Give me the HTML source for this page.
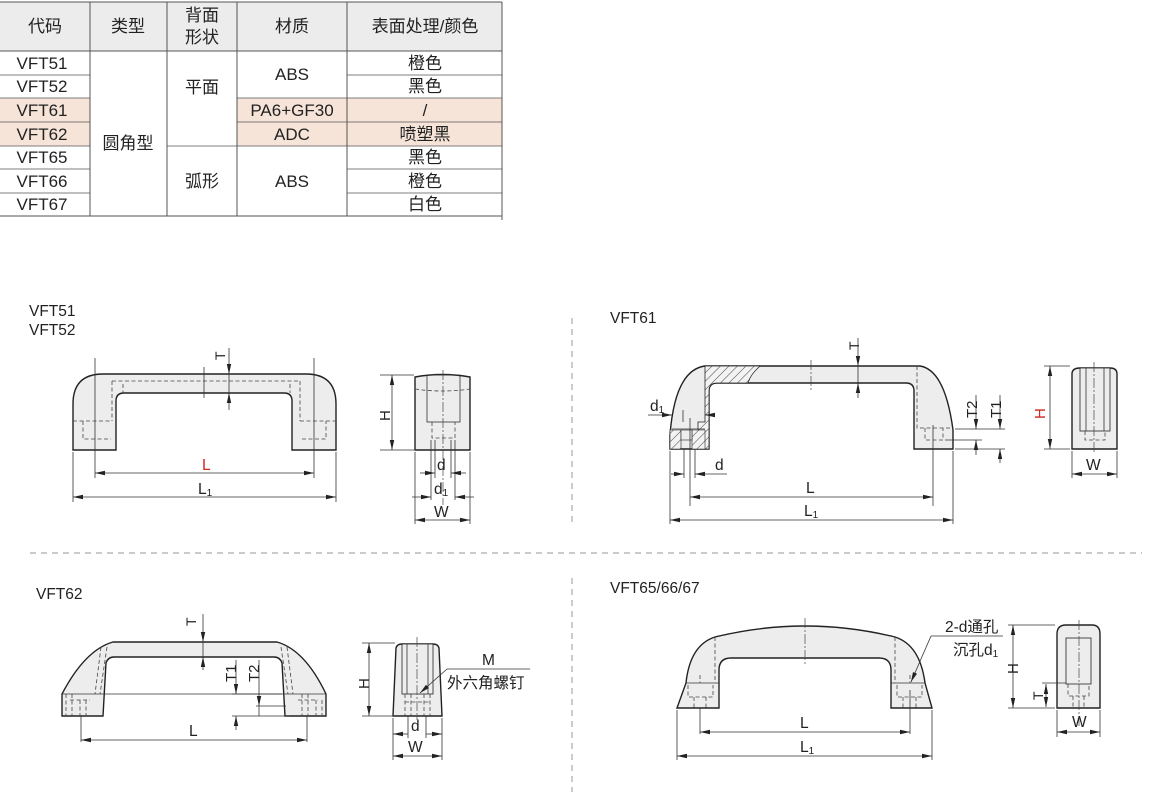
<!DOCTYPE html>
<html><head><meta charset="utf-8">
<style>
html,body{margin:0;padding:0;background:#fff;}
svg{display:block;}
text{font-family:"Liberation Sans","Noto Sans CJK SC",sans-serif;fill:#222;}
.tb{font-size:17px;}
.lb{font-size:15.5px;}
.o{fill:#ededed;stroke:#222;stroke-width:1.4;}
.ln{stroke:#333;stroke-width:0.8;fill:none;}
.dl{stroke:#444;stroke-width:0.8;fill:none;stroke-dasharray:4 2.5;}
.cl{stroke:#444;stroke-width:0.7;fill:none;stroke-dasharray:10 2 2 2;}
.sep{stroke:#aaa;stroke-width:1.2;stroke-dasharray:6 5;fill:none;}
</style></head>
<body>
<svg width="1164" height="797" viewBox="0 0 1164 797" xmlns="http://www.w3.org/2000/svg">
<defs>
<marker id="a" viewBox="0 0 10 6" refX="10" refY="3" markerWidth="10" markerHeight="6" orient="auto-start-reverse" markerUnits="userSpaceOnUse"><path d="M0,0.8 L10,3 L0,5.2 z" fill="#222"/></marker>
<pattern id="h" width="6" height="6" patternUnits="userSpaceOnUse" patternTransform="rotate(45)"><rect width="6" height="6" fill="#f3f3f3"/><line x1="0" y1="0" x2="0" y2="6" stroke="#333" stroke-width="0.9"/></pattern>
</defs>

<!-- TABLE -->
<rect x="0" y="2" width="502" height="49" fill="#ececec"/>
<rect x="0" y="98" width="90" height="48" fill="#f6e4d8"/>
<rect x="237" y="98" width="265" height="48" fill="#f6e4d8"/>
<g stroke="#555" stroke-width="1">
<line x1="0" y1="2" x2="502" y2="2"/>
<line x1="0" y1="51" x2="502" y2="51"/>
<line x1="0" y1="216" x2="502" y2="216"/>
<line x1="90" y1="2" x2="90" y2="216"/>
<line x1="167" y1="2" x2="167" y2="216"/>
<line x1="237" y1="2" x2="237" y2="216"/>
<line x1="347" y1="2" x2="347" y2="216"/>
<line x1="502" y1="2" x2="502" y2="220"/>
<g stroke-width="0.7">
<line x1="0" y1="75" x2="90" y2="75"/><line x1="0" y1="98" x2="90" y2="98"/><line x1="0" y1="122" x2="90" y2="122"/><line x1="0" y1="146" x2="90" y2="146"/><line x1="0" y1="169" x2="90" y2="169"/><line x1="0" y1="193" x2="90" y2="193"/>
<line x1="167" y1="146" x2="237" y2="146"/>
<line x1="237" y1="98" x2="502" y2="98"/><line x1="237" y1="122" x2="502" y2="122"/><line x1="237" y1="146" x2="502" y2="146"/>
<line x1="347" y1="75" x2="502" y2="75"/><line x1="347" y1="169" x2="502" y2="169"/><line x1="347" y1="193" x2="502" y2="193"/>
</g></g>
<g class="tb" text-anchor="middle">
<text x="45" y="32">代码</text><text x="128" y="32">类型</text>
<text x="202" y="21">背面</text><text x="202" y="43">形状</text>
<text x="292" y="32">材质</text><text x="425" y="32">表面处理/颜色</text>
<text x="42" y="69">VFT51</text><text x="42" y="92">VFT52</text><text x="42" y="116">VFT61</text><text x="42" y="140">VFT62</text><text x="42" y="163">VFT65</text><text x="42" y="187">VFT66</text><text x="42" y="210">VFT67</text>
<text x="128" y="149">圆角型</text>
<text x="202" y="93">平面</text><text x="202" y="187">弧形</text>
<text x="292" y="80">ABS</text><text x="292" y="116">PA6+GF30</text><text x="292" y="140">ADC</text><text x="292" y="187">ABS</text>
<text x="425" y="69">橙色</text><text x="425" y="92">黑色</text><text x="425" y="116">/</text><text x="425" y="140">喷塑黑</text><text x="425" y="163">黑色</text><text x="425" y="187">橙色</text><text x="425" y="210">白色</text>
</g>

<!-- separators -->
<line class="sep" x1="30" y1="553" x2="1142" y2="553"/>
<line class="sep" x1="572" y1="318" x2="572" y2="527"/>
<line class="sep" x1="572" y1="578" x2="572" y2="792"/>

<!-- ============ VFT51 ============ -->
<text class="lb" x="29" y="316">VFT51</text><text class="lb" x="29" y="335">VFT52</text>
<path class="o" d="M73,450 L73,404 Q73,374 103,374 L306,374 Q336,374 336,404 L336,450 L292,450 L292,401 Q292,393 284,393 L124,393 Q116,393 116,401 L116,450 Z"/>
<path class="dl" d="M112,381 L300,381 M112,381 L112,421 M300,381 L300,421 M73,421 L112,421 M300,421 L336,421 M83,421 L83,439 L111,439 M302,439 L326,439 L326,421 M123,384 L123,393 M290,384 L290,393"/>
<line class="ln" x1="95" y1="358" x2="95" y2="478"/><line class="ln" x1="314" y1="358" x2="314" y2="478"/>
<line class="ln" x1="73" y1="452" x2="73" y2="502"/><line class="ln" x1="336" y1="452" x2="336" y2="502"/>
<line class="ln" x1="204" y1="367" x2="204" y2="398"/>
<line class="ln" x1="95" y1="473" x2="314" y2="473" marker-start="url(#a)" marker-end="url(#a)"/>
<line class="ln" x1="73" y1="497" x2="336" y2="497" marker-start="url(#a)" marker-end="url(#a)"/>
<line class="ln" x1="229" y1="348" x2="229" y2="374" marker-end="url(#a)"/>
<line class="ln" x1="229" y1="410" x2="229" y2="393" marker-end="url(#a)"/>
<line class="ln" x1="229" y1="374" x2="229" y2="393"/>
<text x="219" y="356" font-size="14" transform="rotate(-90 224 355)">T</text>
<text class="lb" x="202" y="470" style="fill:#d0251d">L</text>
<text class="lb" x="198" y="494">L<tspan font-size="10" dy="2">1</tspan></text>
<!-- side view -->
<path class="o" d="M415,450 L415,377 Q442,372 470,377 L470,450 Z"/>
<rect class="ln" x="427" y="375" width="33" height="47" fill="#ededed" stroke="#222"/>
<path class="dl" d="M415,389 Q442,393 470,389 M432,422 L432,438 L455,438 L455,422"/>
<line class="cl" x1="443" y1="370" x2="443" y2="505"/>
<line class="ln" x1="380" y1="375" x2="414" y2="375"/><line class="ln" x1="380" y1="450" x2="414" y2="450"/>
<line class="ln" x1="392" y1="375" x2="392" y2="450" marker-start="url(#a)" marker-end="url(#a)"/>
<text x="376" y="417" font-size="15" transform="rotate(-90 385 412)">H</text>
<line class="ln" x1="435" y1="440" x2="435" y2="478"/><line class="ln" x1="451" y1="440" x2="451" y2="478"/>
<line class="ln" x1="431" y1="440" x2="431" y2="500"/><line class="ln" x1="455" y1="440" x2="455" y2="500"/>
<line class="ln" x1="415" y1="452" x2="415" y2="524"/><line class="ln" x1="470" y1="452" x2="470" y2="524"/>
<line class="ln" x1="420" y1="473" x2="435" y2="473" marker-end="url(#a)"/><line class="ln" x1="466" y1="473" x2="451" y2="473" marker-end="url(#a)"/>
<line class="ln" x1="412" y1="497" x2="431" y2="497" marker-end="url(#a)"/><line class="ln" x1="474" y1="497" x2="455" y2="497" marker-end="url(#a)"/>
<line class="ln" x1="415" y1="520" x2="470" y2="520" marker-start="url(#a)" marker-end="url(#a)"/>
<text class="lb" x="437" y="470">d</text>
<text class="lb" x="434" y="494">d<tspan font-size="10" dy="2">1</tspan></text>
<text class="lb" x="434" y="517">W</text>

<!-- ============ VFT61 ============ -->
<text class="lb" x="610" y="323">VFT61</text>
<path class="o" d="M670,449 L670,435 Q675,370 705,366 L920,366 Q945,370 953,430 L953,449 L914,449 L914,391 Q914,383 906,383 L717,383 Q709,383 709,391 L709,449 Z"/>
<path d="M705,366 L760,366 Q750,375 748,383 L717,383 Q709,383 709,391 L709,449 L698,449 L698,422 L705,422 Z" fill="url(#h)" stroke="#222" stroke-width="0.8"/>
<path d="M670,449 L670,430 L681,430 L681,449 Z M692,430 L705,430 L705,449 L692,449 Z" fill="url(#h)" stroke="#222" stroke-width="0.6"/>
<rect x="681" y="430" width="11" height="10" fill="#ededed" stroke="#222" stroke-width="0.6"/>
<line class="ln" x1="672" y1="429" x2="705" y2="429"/>
<path class="dl" d="M917,366 L917,428 L953,428 M925,428 L925,440 L943,440 L943,428"/>
<line class="cl" x1="811" y1="360" x2="811" y2="392"/>
<line class="ln" x1="670" y1="451" x2="670" y2="524"/><line class="ln" x1="953" y1="451" x2="953" y2="524"/>
<line class="ln" x1="690" y1="418" x2="690" y2="506"/><line class="ln" x1="933" y1="425" x2="933" y2="506"/>
<line class="ln" x1="684" y1="449" x2="684" y2="478"/><line class="ln" x1="695" y1="449" x2="695" y2="478"/>
<line class="ln" x1="671" y1="474" x2="684" y2="474" marker-end="url(#a)"/><line class="ln" x1="727" y1="474" x2="695" y2="474" marker-end="url(#a)"/>
<text class="lb" x="715" y="470">d</text>
<line class="ln" x1="648" y1="415" x2="672" y2="415" marker-end="url(#a)"/><line class="ln" x1="715" y1="415" x2="705" y2="415" marker-end="url(#a)"/>
<line class="ln" x1="683" y1="410" x2="683" y2="422"/>
<text class="lb" x="650" y="411">d<tspan font-size="10" dy="2">1</tspan></text>
<line class="ln" x1="690" y1="497" x2="933" y2="497" marker-start="url(#a)" marker-end="url(#a)"/>
<text class="lb" x="806" y="493">L</text>
<line class="ln" x1="670" y1="520" x2="953" y2="520" marker-start="url(#a)" marker-end="url(#a)"/>
<text class="lb" x="804" y="516">L<tspan font-size="10" dy="2">1</tspan></text>
<line class="ln" x1="858" y1="338" x2="858" y2="366" marker-end="url(#a)"/>
<line class="ln" x1="858" y1="398" x2="858" y2="383" marker-end="url(#a)"/>
<line class="ln" x1="858" y1="366" x2="858" y2="383"/>
<text x="849" y="350" font-size="14" transform="rotate(-90 854 345)">T</text>
<line class="ln" x1="955" y1="429" x2="1005" y2="429"/><line class="ln" x1="945" y1="440" x2="982" y2="440"/><line class="ln" x1="955" y1="449" x2="1005" y2="449"/>
<line class="ln" x1="976" y1="395" x2="976" y2="429" marker-end="url(#a)"/><line class="ln" x1="976" y1="455" x2="976" y2="440" marker-end="url(#a)"/>
<line class="ln" x1="1000" y1="395" x2="1000" y2="429" marker-end="url(#a)"/><line class="ln" x1="1000" y1="463" x2="1000" y2="449" marker-end="url(#a)"/>
<text x="962" y="417" font-size="15" transform="rotate(-90 970 410)">T2</text>
<text x="986" y="417" font-size="15" transform="rotate(-90 994 410)">T1</text>
<!-- side -->
<path class="o" d="M1072,449 L1072,374 Q1072,368 1080,368 L1110,368 Q1117,368 1117,374 L1117,449 Z"/>
<rect x="1080" y="368" width="30" height="63" fill="#ededed" stroke="#222" stroke-width="0.8"/>
<line class="ln" x1="1086" y1="368" x2="1086" y2="431"/><line class="ln" x1="1104" y1="368" x2="1104" y2="431"/>
<path class="dl" d="M1085,431 L1085,440 L1105,440 L1105,431"/>
<line class="cl" x1="1094" y1="362" x2="1094" y2="452"/>
<line class="ln" x1="1044" y1="366" x2="1070" y2="366"/><line class="ln" x1="1044" y1="449" x2="1070" y2="449"/>
<line class="ln" x1="1050" y1="366" x2="1050" y2="449" marker-start="url(#a)" marker-end="url(#a)"/>
<text x="1031" y="415" font-size="15" transform="rotate(-90 1040 410)" style="fill:#d0251d">H</text>
<line class="ln" x1="1072" y1="451" x2="1072" y2="478"/><line class="ln" x1="1117" y1="451" x2="1117" y2="478"/>
<line class="ln" x1="1072" y1="474" x2="1117" y2="474" marker-start="url(#a)" marker-end="url(#a)"/>
<text class="lb" x="1086" y="470">W</text>

<!-- ============ VFT62 ============ -->
<text class="lb" x="36" y="599">VFT62</text>
<path class="o" d="M62,716 L62,694 Q85,650 113,642 L277,642 Q305,650 326,694 L326,716 L285,716 L282,663 Q280,657 274,657 L114,657 Q108,657 106,663 L103,716 Z"/>
<line class="ln" x1="62" y1="694" x2="326" y2="694" stroke="#777"/>
<path class="dl" d="M101,647 L95,694 M107,647 L100,694 M287,647 L293,694 M281,647 L288,694 M66,694 L66,716 M72,694 L72,716 M80,700 L80,716 M86,700 L86,716 M70,700 L90,700 M302,694 L302,716 M308,694 L308,716 M316,700 L316,716 M322,700 L322,716 M298,700 L318,700"/>
<line class="ln" x1="81" y1="716" x2="81" y2="742"/><line class="ln" x1="307" y1="716" x2="307" y2="742"/>
<line class="ln" x1="81" y1="740" x2="307" y2="740" marker-start="url(#a)" marker-end="url(#a)"/>
<text class="lb" x="189" y="736">L</text>
<line class="ln" x1="203" y1="614" x2="203" y2="642" marker-end="url(#a)"/>
<line class="ln" x1="203" y1="670" x2="203" y2="657" marker-end="url(#a)"/>
<line class="ln" x1="203" y1="642" x2="203" y2="657"/>
<text x="186" y="626" font-size="14" transform="rotate(-90 191 621)">T</text>
<line class="ln" x1="232" y1="694" x2="282" y2="694"/><line class="ln" x1="256" y1="706" x2="286" y2="706"/><line class="ln" x1="232" y1="716" x2="290" y2="716"/>
<line class="ln" x1="236" y1="660" x2="236" y2="694" marker-end="url(#a)"/><line class="ln" x1="236" y1="730" x2="236" y2="716" marker-end="url(#a)"/>
<line class="ln" x1="259" y1="660" x2="259" y2="706" marker-end="url(#a)"/><line class="ln" x1="259" y1="716" x2="259" y2="706"/>
<text x="222" y="680" font-size="15" transform="rotate(-90 230 674)">T1</text>
<text x="245" y="680" font-size="15" transform="rotate(-90 253 674)">T2</text>
<!-- side -->
<path class="o" d="M393,716 L396,648 Q397,644 402,644 L433,644 Q438,644 439,648 L442,716 Z"/>
<rect x="402" y="644" width="31" height="50" fill="#ededed" stroke="#222" stroke-width="0.8"/>
<line class="ln" x1="407" y1="644" x2="407" y2="694"/><line class="ln" x1="428" y1="644" x2="428" y2="694"/>
<path class="dl" d="M405,694 L405,716 M411,694 L411,716 M424,694 L424,716 M430,694 L430,716 M405,702 L430,702"/>
<line class="cl" x1="417" y1="637" x2="417" y2="720"/>
<line class="ln" x1="362" y1="643" x2="395" y2="643"/><line class="ln" x1="362" y1="716" x2="395" y2="716"/>
<line class="ln" x1="369" y1="643" x2="369" y2="716" marker-start="url(#a)" marker-end="url(#a)"/>
<text x="355" y="685" font-size="15" transform="rotate(-90 364 680)">H</text>
<line class="ln" x1="408" y1="716" x2="408" y2="738"/><line class="ln" x1="426" y1="716" x2="426" y2="738"/>
<line class="ln" x1="393" y1="718" x2="393" y2="760"/><line class="ln" x1="442" y1="718" x2="442" y2="760"/>
<line class="ln" x1="393" y1="734" x2="408" y2="734" marker-start="url(#a)"/><line class="ln" x1="426" y1="734" x2="442" y2="734" marker-end="url(#a)"/>
<text class="lb" x="411" y="731">d</text>
<line class="ln" x1="393" y1="756" x2="442" y2="756" marker-start="url(#a)" marker-end="url(#a)"/>
<text class="lb" x="408" y="752">W</text>
<line class="ln" x1="530" y1="669" x2="447" y2="669"/>
<line class="ln" x1="447" y1="669" x2="420" y2="693" marker-end="url(#a)"/>
<text class="lb" x="482" y="665">M</text>
<text class="lb" x="447" y="688">外六角螺钉</text>

<!-- ============ VFT65/66/67 ============ -->
<text class="lb" x="610" y="593">VFT65/66/67</text>
<path class="o" d="M677,708 L686,683 Q690,645 715,637 Q805,615 895,637 Q920,645 925,683 L932,708 L891,708 L891,670 Q891,658 879,658 L731,658 Q719,658 719,670 L719,708 Z"/>
<line class="ln" x1="686" y1="683" x2="719" y2="683" stroke="#777"/><line class="ln" x1="891" y1="683" x2="925" y2="683" stroke="#777"/>
<path class="dl" d="M715,637 L715,683 M895,637 L895,683 M688,685 L688,697 L713,697 L713,685 M694,697 L694,708 M706,697 L706,708 M897,685 L897,697 L922,697 L922,685 M903,697 L903,708 M916,697 L916,708 M700,675 L700,683 M910,675 L910,683"/>
<line class="cl" x1="805" y1="618" x2="805" y2="664"/>
<line class="ln" x1="700" y1="708" x2="700" y2="734"/><line class="ln" x1="910" y1="690" x2="910" y2="734"/>
<line class="ln" x1="677" y1="710" x2="677" y2="760"/><line class="ln" x1="932" y1="710" x2="932" y2="760"/>
<line class="ln" x1="700" y1="732" x2="910" y2="732" marker-start="url(#a)" marker-end="url(#a)"/>
<text class="lb" x="800" y="728">L</text>
<line class="ln" x1="677" y1="756" x2="932" y2="756" marker-start="url(#a)" marker-end="url(#a)"/>
<text class="lb" x="800" y="752">L<tspan font-size="10" dy="2">1</tspan></text>
<line class="ln" x1="1003" y1="636" x2="931" y2="636"/>
<line class="ln" x1="931" y1="636" x2="911" y2="682" marker-end="url(#a)"/>
<text class="lb" x="945" y="632">2-d通孔</text>
<text class="lb" x="953" y="655">沉孔d<tspan font-size="10" dy="2">1</tspan></text>
<!-- side -->
<path class="o" d="M1057,708 L1057,634 Q1057,625 1066,625 L1092,625 Q1100,625 1100,634 L1100,708 Z"/>
<rect x="1066" y="638" width="25" height="46" fill="#ededed" stroke="#222" stroke-width="0.8"/>
<path class="dl" d="M1068,684 L1068,696 L1089,696 L1089,684 M1073,696 L1073,708 M1084,696 L1084,708"/>
<line class="cl" x1="1079" y1="620" x2="1079" y2="728"/>
<line class="ln" x1="1008" y1="625" x2="1055" y2="625"/><line class="ln" x1="1008" y1="708" x2="1055" y2="708"/>
<line class="ln" x1="1013" y1="625" x2="1013" y2="708" marker-start="url(#a)" marker-end="url(#a)"/>
<text x="1004" y="672" font-size="15" transform="rotate(-90 1012 666)">H</text>
<line class="ln" x1="1042" y1="683" x2="1066" y2="683"/>
<line class="ln" x1="1046" y1="684" x2="1046" y2="707" marker-start="url(#a)" marker-end="url(#a)"/>
<text x="1033" y="700" font-size="14" transform="rotate(-90 1038 695)">T</text>
<line class="ln" x1="1057" y1="710" x2="1057" y2="737"/><line class="ln" x1="1100" y1="710" x2="1100" y2="737"/>
<line class="ln" x1="1057" y1="732" x2="1100" y2="732" marker-start="url(#a)" marker-end="url(#a)"/>
<text class="lb" x="1072" y="727">W</text>
</svg>
</body></html>
